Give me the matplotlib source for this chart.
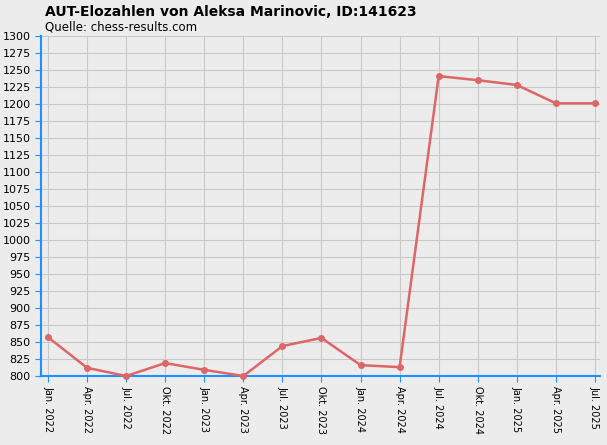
import matplotlib.pyplot as plt
import numpy as np

labels = ["Jan. 2022", "Apr. 2022", "Jul. 2022", "Okt. 2022", "Jan. 2023", "Apr. 2023",
          "Jul. 2023", "Okt. 2023", "Jan. 2024", "Apr. 2024", "Jul. 2024", "Okt. 2024",
          "Jan. 2025", "Apr. 2025", "Jul. 2025"]
elo = [857, 812, 800, 819, 809, 800, 844, 856, 816, 813, 1241, 1235, 1228, 1201, 1201]

fig = plt.figure(figsize=(6.07, 4.45), dpi=100)
fig.patch.set_facecolor("#ececec")
ax = fig.add_axes([41 / 607, 1 - 376 / 445, 559 / 607, 340 / 445])
ax.set_facecolor("#ececec")

x = np.arange(len(labels))
ax.plot(x, elo, color="#dd6666", lw=1.8, marker="o", ms=4, zorder=3, clip_on=False)

ax.set_xlim(-0.18, len(labels) - 1 + 0.13)
ax.set_ylim(800, 1300)
ax.set_yticks(range(800, 1301, 25))
ax.set_xticks(x)
ax.set_xticklabels(labels, rotation=-90, fontsize=7)
ax.tick_params(axis="y", labelsize=8, color="#1e90ff", length=4)
ax.tick_params(axis="x", color="#1e90ff", length=4)
ax.grid(True, color="#c8c8c8", lw=0.8)
for s in ["top", "right"]:
    ax.spines[s].set_visible(False)
ax.spines["left"].set_color("#1e90ff")
ax.spines["bottom"].set_color("#1e90ff")
ax.spines["left"].set_linewidth(1.5)
ax.spines["bottom"].set_linewidth(1.5)

fig.text(45 / 607, 1 - 12 / 445, "AUT-Elozahlen von Aleksa Marinovic, ID:141623",
         fontsize=10, fontweight="bold", va="center")
fig.text(45 / 607, 1 - 27 / 445, "Quelle: chess-results.com", fontsize=8.5, va="center")

fig.savefig("out.png", dpi=100, facecolor=fig.get_facecolor())
